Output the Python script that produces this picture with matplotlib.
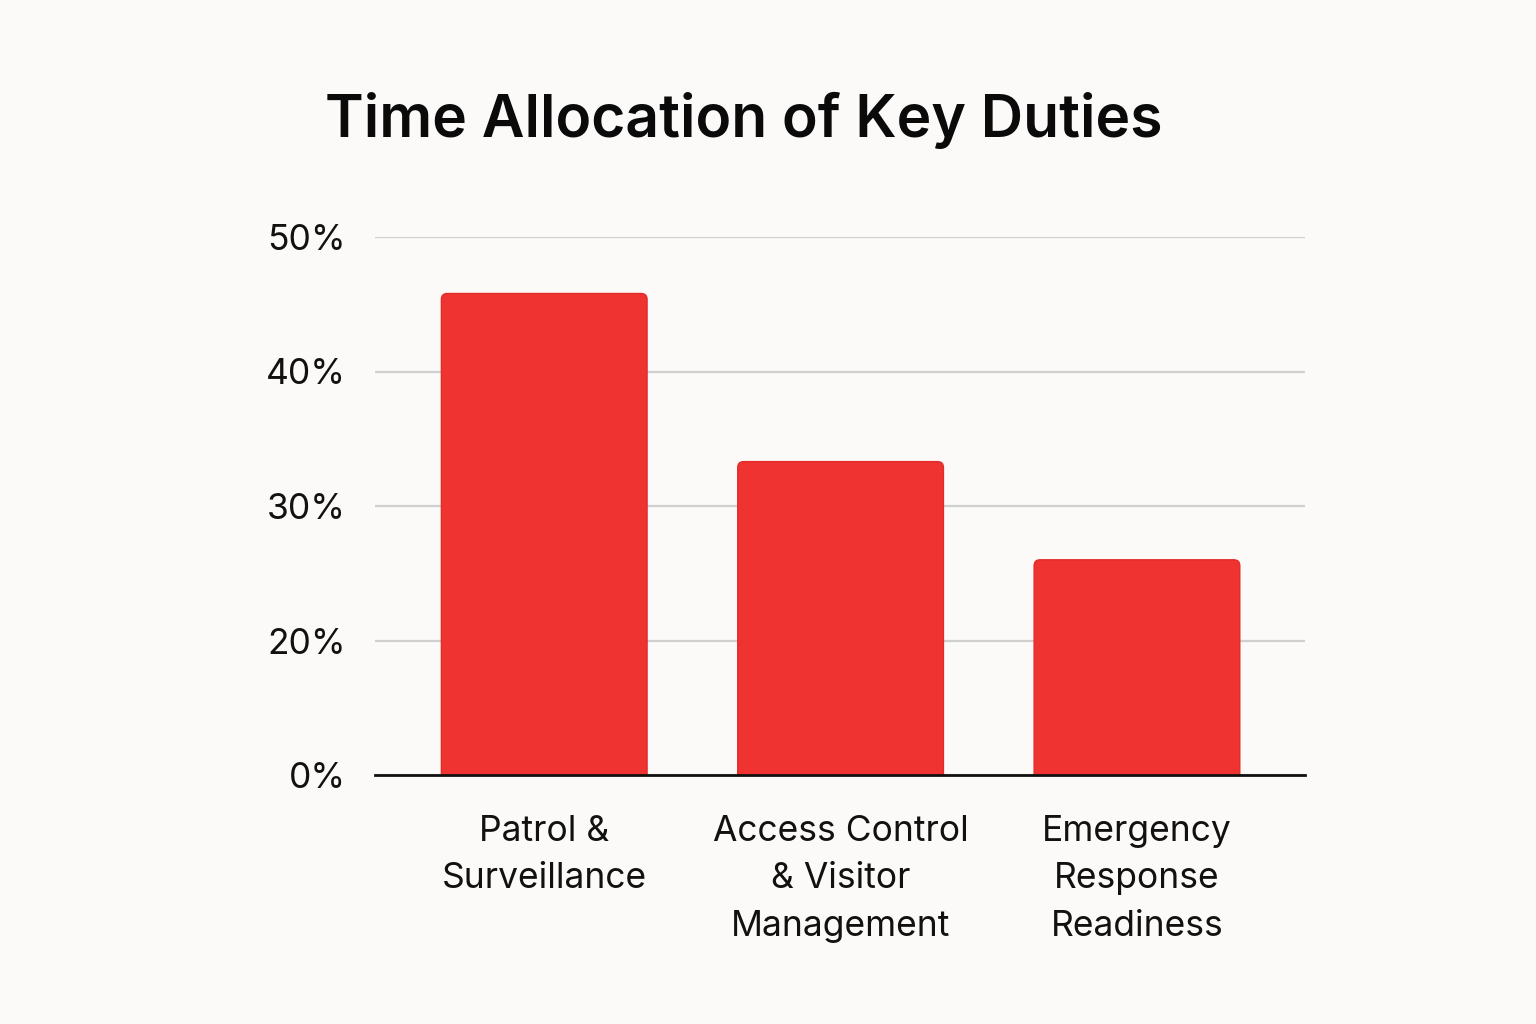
#!/usr/bin/env python3
"""Time allocation of key duties - bar chart"""

import matplotlib
matplotlib.use("Agg")
import matplotlib.pyplot as plt
from matplotlib.patches import FancyBboxPatch

# data
categories = ["Patrol &\nSurveillance",
              "Access Control\n& Visitor\nManagement",
              "Emergency\nResponse\nReadiness"]
values = [45.8, 33.3, 26]
# the source chart puts its bottom gridline at 10 but labels it 0%
tick_values = [10, 20, 30, 40, 50]
tick_labels = ["0%", "20%", "30%", "40%", "50%"]

BG = "#FBFAF8"
RED = "#EE3331"

plt.rcParams["font.family"] = ["Inter", "DejaVu Sans"]

fig = plt.figure(figsize=(15.36, 10.24), dpi=100, facecolor=BG)
ax = fig.add_axes([375 / 1536, 249 / 1024, 930 / 1536, 538 / 1024])
ax.set_facecolor(BG)

x = list(range(len(categories)))
bars = ax.bar(x, values, width=0.694, color=RED, zorder=3)

# swap the plain rectangles for ones with slightly rounded corners
for b in bars:
    b.set_visible(False)
    x0, y0 = b.get_x(), b.get_y()
    w, h = b.get_width(), b.get_height()
    patch = FancyBboxPatch((x0, y0), w, h,
                           boxstyle="round,pad=0,rounding_size=0.02",
                           mutation_aspect=(40 / 538) / (3.138 / 930),
                           facecolor=RED, edgecolor="#E32B29",
                           linewidth=1, zorder=3)
    ax.add_patch(patch)

ax.set_xlim(-0.571, 2.567)
ax.set_ylim(10, 50)
ax.set_yticks(tick_values)
ax.set_yticklabels(tick_labels)
ax.set_xticks(x)
ax.set_xticklabels(categories, linespacing=1.57)

ax.grid(axis="y", color="#CFCFCF", linewidth=1.6, zorder=0)
ax.set_axisbelow(True)

for side in ["top", "right", "left"]:
    ax.spines[side].set_visible(False)
ax.spines["bottom"].set_color("#111111")
ax.spines["bottom"].set_linewidth(2)
ax.spines["bottom"].set_zorder(4)

ax.tick_params(axis="y", length=0, pad=21, labelsize=25.5, labelcolor="#111111")
ax.tick_params(axis="x", length=0, pad=28.5, labelsize=25.5, labelcolor="#111111")

fig.text(744 / 1536, 1 - 120 / 1024, "Time Allocation of Key Duties",
         ha="center", va="center", fontsize=42.3, fontweight="semibold",
         color="#0A0A0A")

fig.savefig("out.png", dpi=100, facecolor=BG)
